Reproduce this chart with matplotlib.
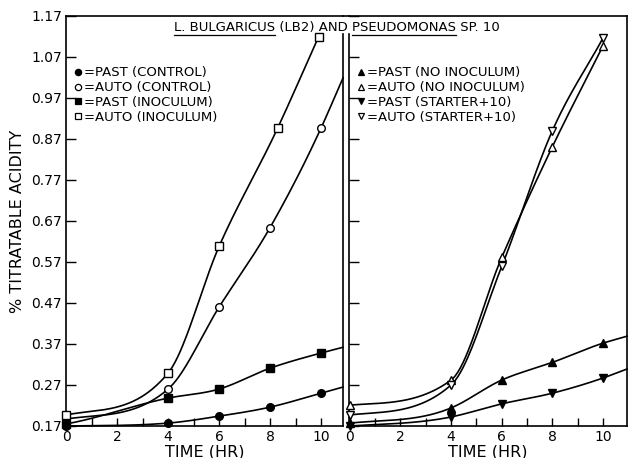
import numpy as np
import matplotlib
matplotlib.use('Agg')
import matplotlib.pyplot as plt
from matplotlib.lines import Line2D

# L. bulgaricus (LB2) and Pseudomonas sp. 10, % titratable acidity vs time
time = [0, 4, 6, 8, 10]

# left panel
past_control = [0.170, 0.177, 0.194, 0.216, 0.250]
auto_control = [0.187, 0.260, 0.460, 0.654, 0.897]
past_inoculum = [0.175, 0.238, 0.260, 0.311, 0.348]
auto_inoculum_time = [0, 4, 6, 8.3, 9.9]
auto_inoculum = [0.197, 0.299, 0.608, 0.897, 1.119]

# right panel
past_no_inoc = [0.177, 0.214, 0.282, 0.325, 0.372]
auto_no_inoc = [0.221, 0.282, 0.581, 0.851, 1.097]
past_starter = [0.170, 0.192, 0.224, 0.250, 0.287]
auto_starter = [0.197, 0.270, 0.559, 0.890, 1.116]

# where the curves run off the right edge of each panel
edge_left = 10.86
edge_right = 10.95
past_control_edge = 0.265
auto_control_edge = 1.019
past_inoculum_edge = 0.362
past_no_inoc_edge = 0.389
past_starter_edge = 0.309

yticks = [0.17, 0.27, 0.37, 0.47, 0.57, 0.67, 0.77, 0.87, 0.97, 1.07, 1.17]


def smooth(x, y, n=200):
    # hermite curve: averaged slopes, limited so nothing overshoots
    x = np.asarray(x, float)
    y = np.asarray(y, float)
    h = np.diff(x)
    d = np.diff(y) / h
    m = np.zeros_like(y)
    for k in range(1, len(x) - 1):
        m[k] = (h[k] * d[k - 1] + h[k - 1] * d[k]) / (h[k - 1] + h[k])
    m[0] = 0.7 * d[0]
    m[-1] = d[-1]
    for k in range(len(d)):
        if d[k] <= 0:
            m[k] = m[k + 1] = 0
            continue
        a, b = m[k] / d[k], m[k + 1] / d[k]
        s = a * a + b * b
        if s > 9:
            tau = 3 / np.sqrt(s)
            m[k], m[k + 1] = tau * a * d[k], tau * b * d[k]
    xs = np.linspace(x[0], x[-1], n)
    j = np.clip(np.searchsorted(x, xs) - 1, 0, len(x) - 2)
    t = (xs - x[j]) / h[j]
    h00 = 2 * t ** 3 - 3 * t ** 2 + 1
    h10 = t ** 3 - 2 * t ** 2 + t
    h01 = -2 * t ** 3 + 3 * t ** 2
    h11 = t ** 3 - t ** 2
    ys = h00 * y[j] + h10 * h[j] * m[j] + h01 * y[j + 1] + h11 * h[j] * m[j + 1]
    return xs, ys


def curve(ax, x, y, marker, filled, label, edge=None, edge_val=None):
    cx, cy = list(x), list(y)
    if edge is not None:
        cx.append(edge)
        cy.append(edge_val)
    xs, ys = smooth(cx, cy)
    ax.plot(xs, ys, color='black', lw=1.2, clip_on=False, zorder=2)
    ax.plot(x, y, linestyle='none', marker=marker, ms=5.5, mew=1.0,
            mec='black', mfc='black' if filled else 'white', zorder=3,
            clip_on=False)
    return Line2D([], [], linestyle='none', marker=marker, ms=4.5, mew=0.9,
                  mec='black', mfc='black' if filled else 'white', label=label)


fig = plt.figure(figsize=(6.3, 4.58), dpi=100)
ax1 = fig.add_axes([0.1048, 0.0699, 0.4397, 0.8952])
ax2 = fig.add_axes([0.5540, 0.0699, 0.4413, 0.8952])

h1 = [
    curve(ax1, time, past_control, 'o', True, '=PAST (CONTROL)', edge_left, past_control_edge),
    curve(ax1, time, auto_control, 'o', False, '=AUTO (CONTROL)', edge_left, auto_control_edge),
    curve(ax1, time, past_inoculum, 's', True, '=PAST (INOCULUM)', edge_left, past_inoculum_edge),
    curve(ax1, auto_inoculum_time, auto_inoculum, 's', False, '=AUTO (INOCULUM)'),
]
h2 = [
    curve(ax2, time, past_no_inoc, '^', True, '=PAST (NO INOCULUM)', edge_right, past_no_inoc_edge),
    curve(ax2, time, auto_no_inoc, '^', False, '=AUTO (NO INOCULUM)'),
    curve(ax2, time, past_starter, 'v', True, '=PAST (STARTER+10)', edge_right, past_starter_edge),
    curve(ax2, time, auto_starter, 'v', False, '=AUTO (STARTER+10)'),
]

ax1.set_xlim(0, edge_left)
ax2.set_xlim(-0.03, edge_right)
for ax in (ax1, ax2):
    ax.set_ylim(0.17, 1.17)
    ax.set_yticks(yticks)
    ax.set_xticks([0, 2, 4, 6, 8, 10])
    ax.set_xticks(range(0, 11), minor=True)
    ax.tick_params(direction='in', which='both', width=1.0, labelsize=10, pad=3)
    ax.tick_params(axis='y', length=7)
    ax.tick_params(axis='x', which='both', length=6)
    for s in ax.spines.values():
        s.set_linewidth(1.2)
    ax.set_xlabel('TIME (HR)', fontsize=11.5, labelpad=0)
ax1.set_yticklabels(['%.2f' % v for v in yticks])
ax2.set_yticklabels([])
ax1.set_ylabel('% TITRATABLE ACIDITY', fontsize=11.5, labelpad=4)

# the divider between the panels stops under the title,
# the top rule runs on across both panels
ax1.spines['right'].set_bounds(0.17, 1.126)
ax2.spines['left'].set_bounds(0.17, 1.126)
top = ax1.get_position().y1
fig.add_artist(Line2D([ax1.get_position().x1, ax2.get_position().x0], [top, top],
                      color='black', lw=1.2, transform=fig.transFigure))

for ax, h, x0 in ((ax1, h1, 0.03), (ax2, h2, 0.028)):
    ax.legend(handles=h, loc='upper left', bbox_to_anchor=(x0, 0.877),
              frameon=False, fontsize=9.5, handlelength=0.6, handletextpad=0.15,
              labelspacing=0.13, borderpad=0, borderaxespad=0)

# title with underlined species names
title = 'L. BULGARICUS (LB2) AND PSEUDOMONAS SP. 10'
underlined = ['L. BULGARICUS', 'PSEUDOMONAS']
fs = 9.5
fig.canvas.draw()
r = fig.canvas.get_renderer()


def width(s):
    # width of a string, counting trailing spaces
    t = fig.text(0, 0, s + '|', fontsize=fs)
    w = t.get_window_extent(r).width
    t.remove()
    t = fig.text(0, 0, '|', fontsize=fs)
    w -= t.get_window_extent(r).width
    t.remove()
    return w


total = width(title)
x0 = 337 - total / 2
fig.text(x0 / 630, 1 - 28 / 458, title, fontsize=fs, va='center', zorder=5)
for word in underlined:
    i = title.index(word)
    a = x0 + width(title[:i]) if i else x0
    b = x0 + width(title[:i + len(word)])
    fig.add_artist(Line2D([a / 630, b / 630], [1 - 34.5 / 458] * 2, zorder=6,
                          color='black', lw=0.9, transform=fig.transFigure))

fig.savefig('out.png', dpi=100, facecolor='white')
